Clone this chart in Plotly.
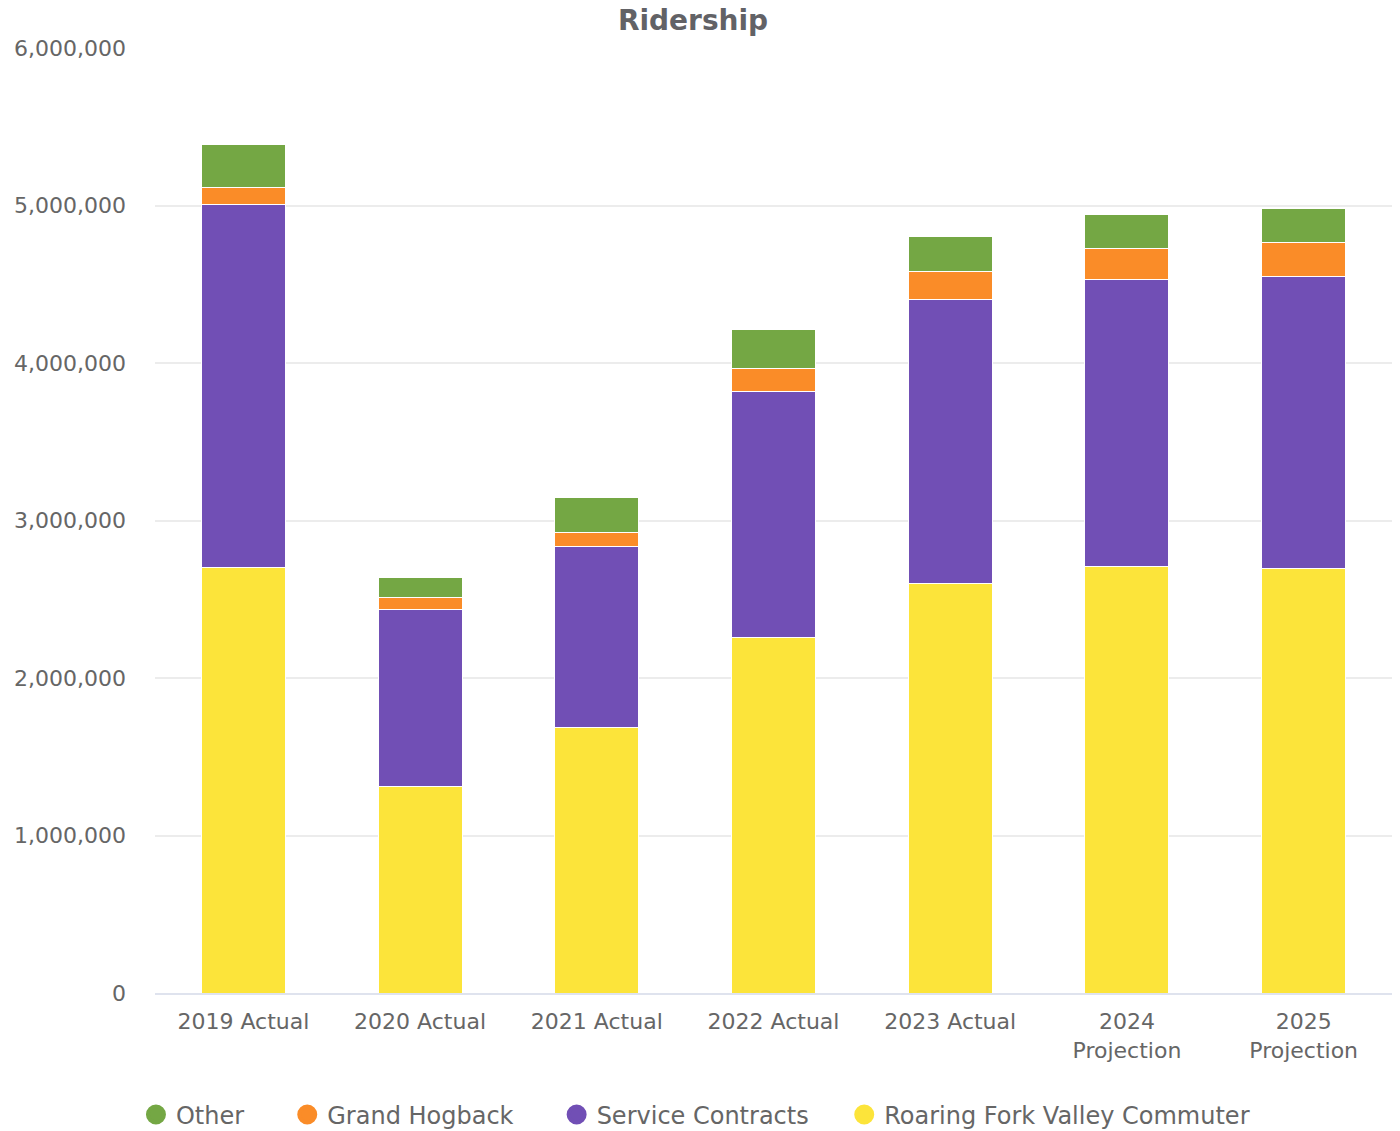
import plotly.graph_objects as go

# Annual ridership by service type
categories = ["2019 Actual", "2020 Actual", "2021 Actual", "2022 Actual",
              "2023 Actual", "2024<br>Projection", "2025<br>Projection"]
roaring_fork = [2700000, 1308000, 1683000, 2260000, 2597000, 2711000, 2698000]
service_contracts = [2305000, 1124000, 1155000, 1562000, 1809000, 1822000, 1854000]
grand_hogback = [108000, 76000, 89000, 146000, 178000, 197000, 216000]
other = [273000, 133000, 222000, 242000, 222000, 216000, 210000]

# (name, values, colour, legend spacing after the entry)
series = [
    ("Roaring Fork Valley Commuter", roaring_fork, "#fce43a", 0),
    ("Service Contracts", service_contracts, "#714fb5", 4),
    ("Grand Hogback", grand_hogback, "#fa8c28", 5),
    ("Other", other, "#74a744", 5),
]

FONT = "DejaVu Sans"
TEXT = "#666666"

fig = go.Figure()
for name, vals, color, _ in series:
    fig.add_trace(go.Bar(
        x=categories, y=vals, name=name,
        marker=dict(color=color, line=dict(color="white", width=1)),
        showlegend=False,
        hovertemplate="%{x}<br>" + name + ": %{y:,}<extra></extra>",
    ))

# Circle legend entries, listed top series first
for name, vals, color, pad in reversed(series):
    fig.add_trace(go.Scatter(
        x=[None], y=[None], mode="markers", name=name + "\u00a0" * pad,
        marker=dict(symbol="circle", size=16, color=color,
                    line=dict(color=color, width=4)),
    ))

fig.update_layout(
    barmode="stack",
    bargap=0.525,
    width=1400, height=1131,
    margin=dict(l=155, r=8, t=48, b=138, autoexpand=False),
    paper_bgcolor="white", plot_bgcolor="white",
    font=dict(family=FONT, size=22, color=TEXT),
    title=dict(text="<b>Ridership</b>", x=0.495, xanchor="center",
               y=0.982, yanchor="middle",
               font=dict(family=FONT, size=28, color="#626266")),
    legend=dict(orientation="h", x=-0.0154, xanchor="left", y=-0.129,
                yanchor="middle", traceorder="normal",
                font=dict(size=24, color=TEXT), itemwidth=30),
    xaxis=dict(showgrid=False, tickfont=dict(size=22, color=TEXT),
               showline=True, linecolor="#dfe3ee", linewidth=2,
               ticks="", ticklabelstandoff=8),
    yaxis=dict(range=[0, 6000000], tickvals=[0, 1000000, 2000000, 3000000,
                                              4000000, 5000000, 6000000],
               tickformat=",d", gridcolor="#ececec", gridwidth=2,
               zeroline=False, tickfont=dict(size=22, color=TEXT),
               ticklabelstandoff=28),
)

fig.write_html("out.html")
